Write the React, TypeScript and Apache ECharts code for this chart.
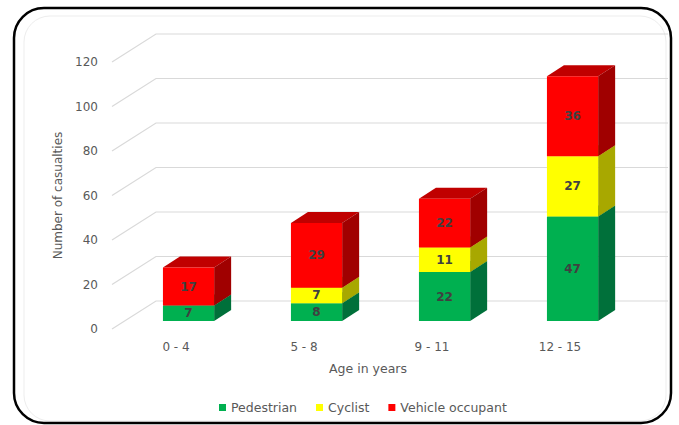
import React, { useEffect, useRef } from "react";
import * as echarts from "echarts";

const categories = ["0 - 4", "5 - 8", "9 - 11", "12 - 15"];
const pedestrian = [7, 8, 22, 47];
const cyclist = [0, 7, 11, 27];
const vehicle = [17, 29, 22, 36];
const yTicks = [0, 20, 40, 60, 80, 100, 120];

const seriesDefs = [
  { name: "Pedestrian", values: pedestrian, front: "#00B050", side: "#00703A", top: "#00913F" },
  { name: "Cyclist", values: cyclist, front: "#FFFF00", side: "#A8A800", top: "#D0D000" },
  { name: "Vehicle occupant", values: vehicle, front: "#FF0000", side: "#A00000", top: "#C00000" },
];

const FONT = "DejaVu Sans";
const DEPTH_X = 44;
const DEPTH_Y = -28;

export default function App() {
  const ref = useRef<HTMLDivElement>(null);

  useEffect(() => {
    document.body.style.margin = "0";
    const chart = echarts.init(ref.current as HTMLDivElement, null, { renderer: "svg" });

    // stacked bases built from the series arrays
    const bases: number[][] = [];
    let running = categories.map(() => 0);
    seriesDefs.forEach((s) => {
      bases.push(running.slice());
      running = running.map((r, i) => r + s.values[i]);
    });

    const makeRender = (def: any) => (params: any, api: any) => {
      const idx = api.value(0);
      const base = api.value(1);
      const top = api.value(2);
      const val = api.value(3);
      if (!(val > 0)) return { type: "group", children: [] };
      const p0 = api.coord([idx, base]);
      const p1 = api.coord([idx, top]);
      const band = api.size([1, 0])[0];
      const w = band * 0.4;
      const ox = band * 0.098;
      const oy = -8;
      const dx = 17;
      const dy = -11;
      const x0 = p0[0] - w / 2 + ox;
      const x1 = x0 + w;
      const yb = p0[1] + oy;
      const yt = p1[1] + oy;
      return {
        type: "group",
        children: [
          {
            type: "polygon",
            shape: { points: [[x0, yt], [x1, yt], [x1 + dx, yt + dy], [x0 + dx, yt + dy]] },
            style: { fill: def.top },
          },
          {
            type: "polygon",
            shape: { points: [[x1, yb], [x1 + dx, yb + dy], [x1 + dx, yt + dy], [x1, yt]] },
            style: { fill: def.side },
          },
          {
            type: "rect",
            shape: { x: x0, y: yt, width: w, height: yb - yt },
            style: { fill: def.front },
          },
          {
            type: "text",
            style: {
              text: String(val),
              x: (x0 + x1) / 2,
              y: (yt + yb) / 2,
              align: "center",
              verticalAlign: "middle",
              fill: "#404040",
              fontSize: 12,
              fontWeight: "bold",
              fontFamily: FONT,
            },
          },
        ],
      };
    };

    const barSeries = seriesDefs.map((def, si) => ({
      type: "custom",
      name: def.name,
      coordinateSystem: "cartesian2d",
      renderItem: makeRender(def),
      itemStyle: { color: def.front },
      encode: { x: 0, y: 2 },
      data: categories.map((_, i) => [i, bases[si][i], bases[si][i] + def.values[i], def.values[i]]),
      z: 3,
    }));

    const wallSeries = {
      type: "custom",
      name: "wall",
      coordinateSystem: "cartesian2d",
      silent: true,
      encode: { x: 0, y: 1 },
      data: yTicks.map((v) => [0, v]),
      renderItem: (params: any, api: any) => {
        const v = api.value(1);
        const p = api.coord([0, v]);
        const cs = params.coordSys;
        const x0 = cs.x;
        const y = p[1];
        return {
          type: "polyline",
          shape: {
            points: [
              [x0, y],
              [x0 + DEPTH_X, y + DEPTH_Y],
              [cs.x + cs.width + DEPTH_X, y + DEPTH_Y],
            ],
          },
          style: { stroke: "#d9d9d9", lineWidth: 1.2, fill: "none" },
        };
      },
      z: 1,
    };

    chart.setOption({
      animation: false,
      backgroundColor: "#ffffff",
      grid: { left: 112, top: 62, width: 512, height: 267 },
      legend: {
        data: seriesDefs.map((s) => s.name),
        left: 214,
        top: 396,
        icon: "rect",
        itemWidth: 7,
        itemHeight: 7,
        itemGap: 19,
        textStyle: { color: "#595959", fontSize: 12.5, fontFamily: FONT },
        selectedMode: false,
      },
      xAxis: {
        type: "category",
        data: categories,
        axisLine: { show: false },
        axisTick: { show: false },
        axisLabel: { color: "#595959", fontSize: 12, fontFamily: FONT, margin: 12 },
        name: "Age in years",
        nameLocation: "middle",
        nameGap: 33,
        nameTextStyle: { color: "#595959", fontSize: 12.5, fontFamily: FONT },
      },
      yAxis: {
        type: "value",
        min: 0,
        max: 120,
        interval: 20,
        axisLine: { show: false },
        axisTick: { show: false },
        splitLine: { show: false },
        axisLabel: { color: "#595959", fontSize: 12, fontFamily: FONT, margin: 14 },
        name: "Number of casualties",
        nameLocation: "middle",
        nameGap: 47,
        nameTextStyle: { color: "#595959", fontSize: 12, fontFamily: FONT },
      },
      graphic: [
        {
          type: "rect",
          shape: { x: 24, y: 16, width: 642, height: 405, r: 26 },
          style: { fill: "none", stroke: "#ededed", lineWidth: 1 },
          z: 0,
          silent: true,
        },
        {
          type: "rect",
          shape: { x: 14, y: 8, width: 657, height: 415, r: 30 },
          style: { fill: "none", stroke: "#000000", lineWidth: 2.5 },
          z: 10,
          silent: true,
        },
      ],
      series: [wallSeries, ...barSeries],
    });

    return () => chart.dispose();
  }, []);

  return (
    <div
      ref={ref}
      style={{ position: "fixed", left: 0, top: 0, width: 679, height: 425, background: "#fff" }}
    />
  );
}
